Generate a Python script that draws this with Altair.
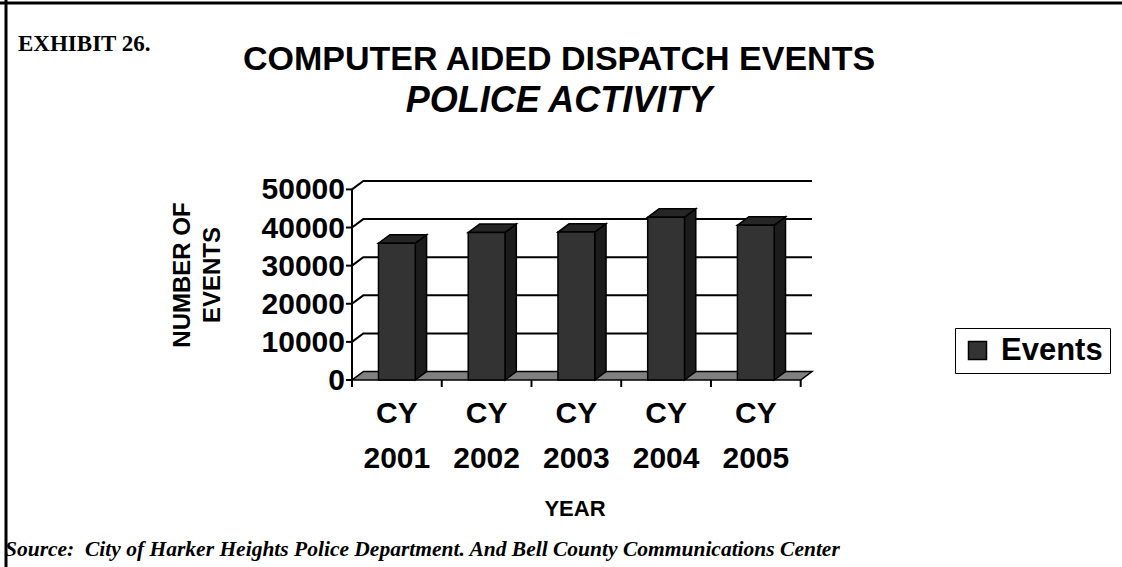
import altair as alt
import pandas as pd

# Computer aided dispatch events by calendar year
years = ["2001", "2002", "2003", "2004", "2005"]
events = [35900, 38700, 38800, 42700, 40600]
y_ticks = [0, 10000, 20000, 30000, 40000, 50000]
grid_levels = [10000, 20000, 30000, 40000, 50000]
series_name = "Events"

# 3-D look: depth of the back wall / columns in data units
DX = 0.126      # horizontal depth (category units)
DY = 2200       # vertical depth (value units)
HALF_W = 0.205  # half the width of a column front face
N = len(years)

SANS = "Liberation Sans"
SERIF = "Liberation Serif"

front_rows, side_rows, top_rows = [], [], []
for i, (yr, v) in enumerate(zip(years, events)):
    cx = i + 0.5
    xl, xr = cx - HALF_W, cx + HALF_W
    front_rows.append({"x": xl, "x2": xr, "y": 0, "y2": v, "series": series_name})
    side_rows += [{"bar": yr, "x": xr, "lo": 0, "hi": v},
                  {"bar": yr, "x": xr + DX, "lo": DY, "hi": v + DY}]
    top_rows += [{"bar": yr, "y": v, "xa": xl, "xb": xr},
                 {"bar": yr, "y": v + DY, "xa": xl + DX, "xb": xr + DX}]

front_df = pd.DataFrame(front_rows)
side_df = pd.DataFrame(side_rows)
top_df = pd.DataFrame(top_rows)

grid_rows = []
for lvl in grid_levels:
    grid_rows += [{"lvl": lvl, "o": 0, "x": 0, "y": lvl},
                  {"lvl": lvl, "o": 1, "x": DX, "y": lvl + DY},
                  {"lvl": lvl, "o": 2, "x": N + DX, "y": lvl + DY}]
grid_df = pd.DataFrame(grid_rows)

floor_df = pd.DataFrame([{"y": 0, "xa": 0, "xb": N},
                         {"y": DY, "xa": DX, "xb": N + DX}])
axis_df = pd.DataFrame([{"x": 0, "y": 0, "y2": max(y_ticks)}])
ytick_df = pd.DataFrame({"y": y_ticks, "label": [str(t) for t in y_ticks]})
xtick_df = pd.DataFrame({"x": list(range(N + 1))})
label_df = pd.DataFrame({"x": [i + 0.5 for i in range(N)],
                         "cy": ["CY"] * N, "year": years})

xs = alt.Scale(domain=[0, N + DX], nice=False, zero=False)
ys = alt.Scale(domain=[0, max(y_ticks) + DY], nice=False, zero=False)


def X(field):
    return alt.X(field, scale=xs, axis=None)


def Y(field):
    return alt.Y(field, scale=ys, axis=None)


grid = alt.Chart(grid_df).mark_line(color="black", strokeWidth=2).encode(
    x=X("x:Q"), y=Y("y:Q"), detail="lvl:N", order="o:Q")

floor = alt.Chart(floor_df).mark_area(
    orient="horizontal", color="#808080", stroke="black", strokeWidth=1.5
).encode(y=Y("y:Q"), x=X("xa:Q"), x2="xb:Q")

y_line = alt.Chart(axis_df).mark_rule(color="black", strokeWidth=2).encode(
    x=X("x:Q"), y=Y("y:Q"), y2="y2:Q")

# axis ticks and labels
y_tick_marks = alt.Chart(ytick_df).mark_rule(color="black", strokeWidth=2).encode(
    x=alt.value(-6), x2=alt.value(0), y=Y("y:Q"))
y_tick_labels = alt.Chart(ytick_df).mark_text(
    font=SANS, fontSize=30, fontWeight="bold", color="black",
    align="right", baseline="middle", dy=1
).encode(x=alt.value(-7), y=Y("y:Q"), text="label:N")
x_tick_marks = alt.Chart(xtick_df).mark_rule(color="black", strokeWidth=2).encode(
    x=X("x:Q"), y=alt.value(199), y2=alt.value(206))

side = alt.Chart(side_df).mark_area(
    color="#1c1c1c", stroke="black", strokeWidth=1.5
).encode(x=X("x:Q"), y=Y("lo:Q"), y2="hi:Q", detail="bar:N")

top = alt.Chart(top_df).mark_area(
    orient="horizontal", color="#262626", stroke="black", strokeWidth=1.5
).encode(y=Y("y:Q"), x=X("xa:Q"), x2="xb:Q", detail="bar:N")

front = alt.Chart(front_df).mark_rect(stroke="black", strokeWidth=1.5).encode(
    x=X("x:Q"), x2="x2:Q", y=Y("y:Q"), y2="y2:Q",
    color=alt.Color(
        "series:N",
        scale=alt.Scale(domain=[series_name], range=["#333333"]),
        legend=alt.Legend(
            title=None, orient="none", legendX=603, legendY=147,
            symbolType="square", symbolSize=324, symbolStrokeColor="black",
            symbolStrokeWidth=1.5, labelFont=SANS, labelFontSize=31,
            labelFontWeight="bold", labelColor="black", strokeColor="black",
            padding=7, labelOffset=8, fillColor="white",
        ),
    ),
)

cy_text = alt.Chart(label_df).mark_text(
    font=SANS, fontSize=30, fontWeight="bold", color="black",
    baseline="alphabetic", align="center"
).encode(x=X("x:Q"), y=alt.value(242), text="cy:N")

yr_text = alt.Chart(label_df).mark_text(
    font=SANS, fontSize=30, fontWeight="bold", color="black",
    baseline="alphabetic", align="center"
).encode(x=X("x:Q"), y=alt.value(287), text="year:N")


def label(text, x, y, size, font=SANS, style="normal", align="center",
          angle=0, line_height=None):
    kw = dict(text=text, font=font, fontSize=size, fontWeight="bold",
              fontStyle=style, color="black", align=align, angle=angle)
    if "\n" in text:
        kw["lineBreak"] = "\n"
        kw["baseline"] = "middle"
        kw["lineHeight"] = line_height
    else:
        kw["baseline"] = "alphabetic"
    return alt.Chart(pd.DataFrame({"k": [0]})).mark_text(**kw).encode(
        x=alt.value(x), y=alt.value(y))


exhibit = label("EXHIBIT 26.", -334, -130, 23, font=SERIF, align="left")
title1 = label("COMPUTER AIDED DISPATCH EVENTS", 207, -111, 34)
title2 = label("POLICE ACTIVITY", 207, -69, 36, style="italic")
y_title = label("NUMBER OF\nEVENTS", -169, 94, 24, angle=270, line_height=30)
x_title = label("YEAR", 223, 335, 22)
source = label("Source:\u00a0 City of Harker Heights Police Department. And Bell County Communications Center",
               -347, 375, 21.5, font=SERIF, style="italic", align="left")

border_left = alt.Chart(pd.DataFrame({"k": [0]})).mark_rule(
    color="black", strokeWidth=3).encode(
    x=alt.value(-346), y=alt.value(-181), y2=alt.value(386))
border_top = alt.Chart(pd.DataFrame({"k": [0]})).mark_rule(
    color="black", strokeWidth=3).encode(
    x=alt.value(-352), x2=alt.value(770), y=alt.value(-178))

chart = alt.layer(
    grid, floor, y_line, y_tick_marks, x_tick_marks, side, top, front,
    y_tick_labels, cy_text, yr_text,
    exhibit, title1, title2, y_title, x_title, source, border_left, border_top,
).properties(
    width=460, height=199,
    background="white",
    autosize=alt.AutoSizeParams(type="none"),
    padding={"left": 352, "top": 181, "right": 310, "bottom": 187},
).configure_view(stroke=None)

chart.save("out.html", embed_options={"renderer": "svg", "actions": False})
